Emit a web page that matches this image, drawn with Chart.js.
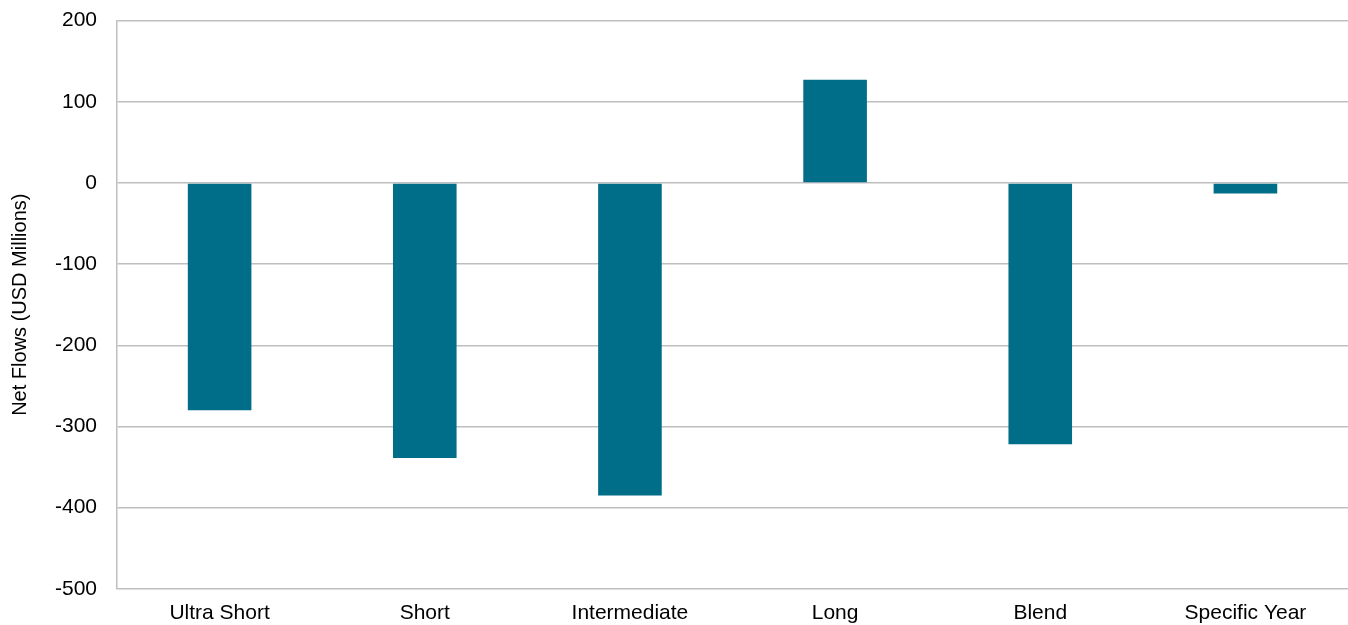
<!DOCTYPE html>
<html>
<head>
<meta charset="utf-8">
<script src="https://cdn.jsdelivr.net/npm/chart.js@4"></script>
<style>
  html, body { margin: 0; padding: 0; background: #fff; overflow: hidden; }
  #wrap { width: 1348px; height: 650px; margin-top: -12px; }
</style>
</head>
<body>
<div id="wrap"><canvas id="myChart"></canvas></div>
<script>
var categories = ['Ultra Short', 'Short', 'Intermediate', 'Long', 'Blend', 'Specific Year'];
var netFlows = [-280, -339, -385, 127, -322, -13];
var yTicks = [200, 100, 0, -100, -200, -300, -400, -500];

var ctx = document.getElementById('myChart').getContext('2d');

var chart = new Chart(ctx, {
    type: 'bar',
    data: {
        labels: categories,
        datasets: [{
            label: 'Net Flows',
            backgroundColor: '#006e89',
            data: netFlows,
            barPercentage: 0.31,
            categoryPercentage: 1.0
        }]
    },
    options: {
        responsive: true,
        maintainAspectRatio: false,
        animation: false,
        layout: { padding: { top: 0, right: 0, bottom: 0, left: 8 } },
        plugins: {
            legend: { display: false },
            tooltip: { enabled: false }
        },
        scales: {
            x: {
                grid: { display: false, drawTicks: false },
                border: { color: '#bfbfbf', width: 1 },
                ticks: {
                    color: '#000',
                    font: { family: 'Liberation Sans, Arial', size: 21 },
                    padding: 12,
                    maxRotation: 0
                }
            },
            y: {
                min: -500,
                max: 200,
                afterBuildTicks: function (axis) {
                    axis.ticks = yTicks.map(function (v) { return { value: v }; });
                },
                grid: { color: '#bfbfbf', lineWidth: 1.5, drawTicks: false },
                border: { color: '#bfbfbf', width: 1.5 },
                ticks: {
                    color: '#000',
                    font: { family: 'Liberation Sans, Arial', size: 21 },
                    padding: 20
                },
                title: {
                    display: true,
                    text: 'Net Flows (USD Millions)',
                    color: '#000',
                    font: { family: 'Liberation Sans, Arial', size: 20 },
                    padding: { top: 0, bottom: 3 }
                }
            }
        }
    }
});
</script>
</body>
</html>
